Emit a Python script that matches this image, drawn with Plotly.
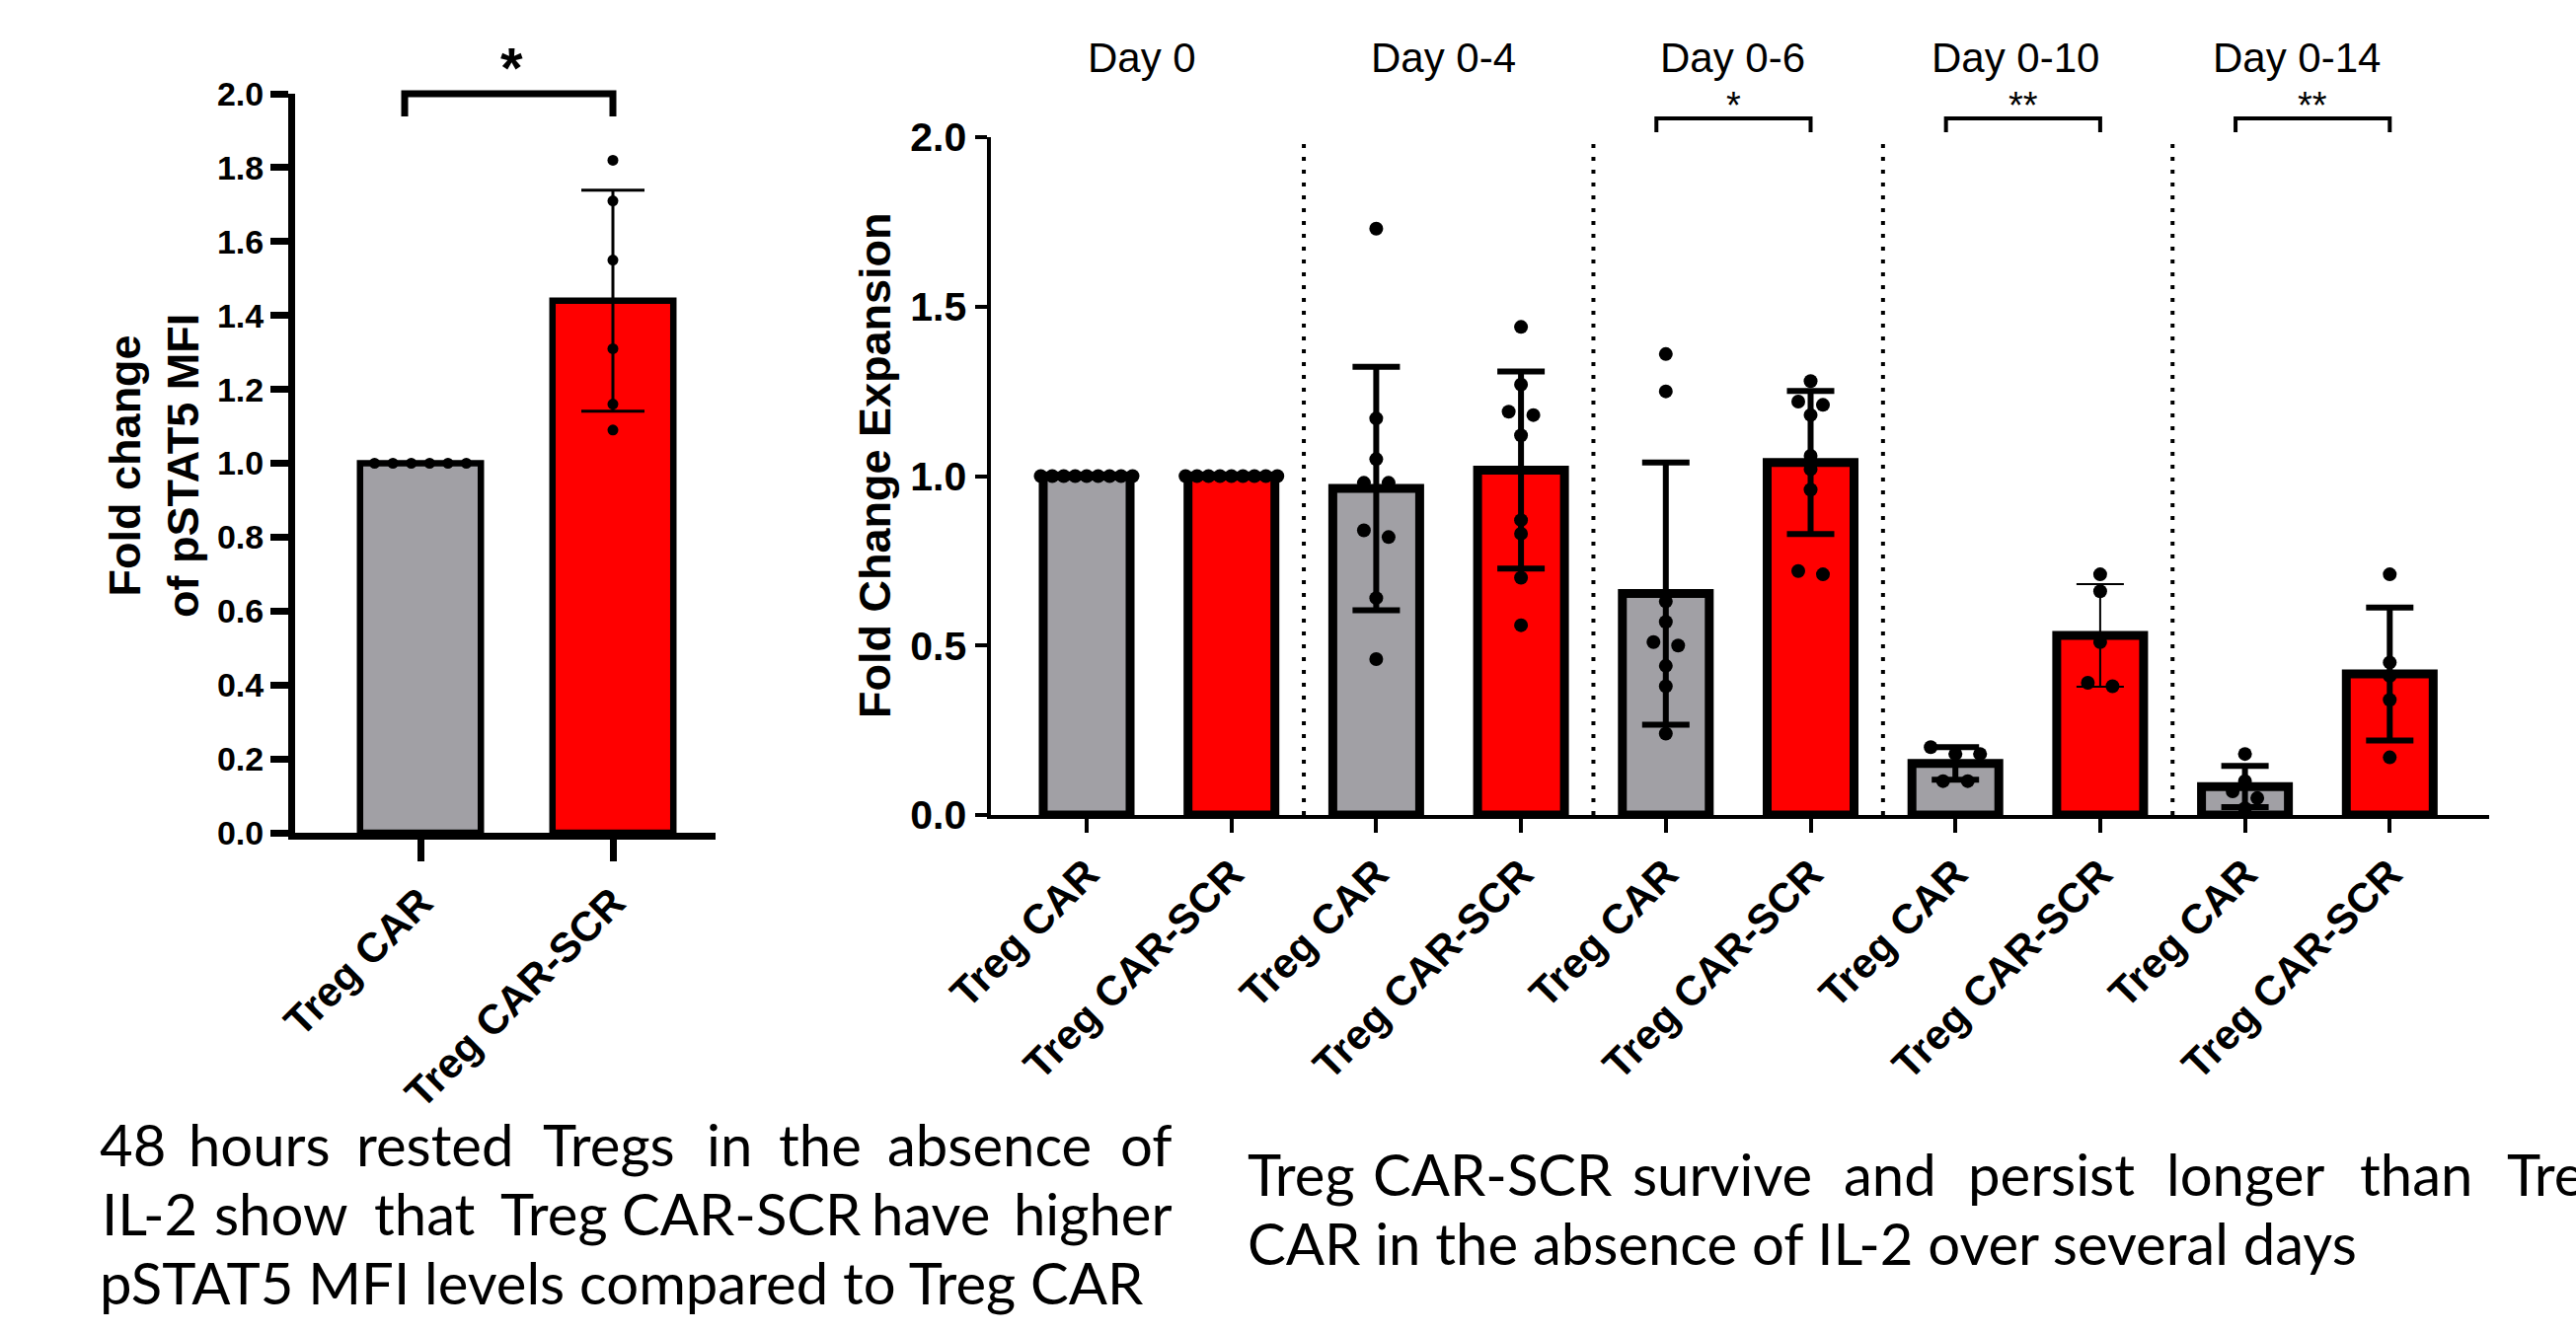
import statistics
import plotly.graph_objects as go

W, H = 2610, 1351

# ---------------- data ----------------
pstat5_groups = ["Treg CAR", "Treg CAR-SCR"]
pstat5_treg_car = [1.00, 1.00, 1.00, 1.00, 1.00, 1.00]
pstat5_treg_car_scr = [1.82, 1.71, 1.55, 1.31, 1.16, 1.09]
pstat5_yticks = [0.0, 0.2, 0.4, 0.6, 0.8, 1.0, 1.2, 1.4, 1.6, 1.8, 2.0]
pstat5_significance = "*"
pstat5_ytitle = "Fold change<br>of pSTAT5 MFI"

expansion_days = ["Day 0", "Day 0-4", "Day 0-6", "Day 0-10", "Day 0-14"]
expansion_groups = ["Treg CAR", "Treg CAR-SCR"]
car_day0 = [1.00, 1.00, 1.00, 1.00, 1.00, 1.00, 1.00, 1.00, 1.00]
scr_day0 = [1.00, 1.00, 1.00, 1.00, 1.00, 1.00, 1.00, 1.00, 1.00]
car_day0_4 = [1.73, 1.17, 1.05, 0.98, 0.98, 0.82, 0.84, 0.64, 0.46]
scr_day0_4 = [1.44, 1.27, 1.19, 1.18, 1.12, 0.87, 0.83, 0.70, 0.56]
car_day0_6 = [1.36, 1.25, 0.63, 0.57, 0.51, 0.50, 0.44, 0.38, 0.24]
scr_day0_6 = [1.28, 1.22, 1.21, 1.18, 1.06, 1.02, 0.96, 0.72, 0.71]
car_day0_10 = [0.20, 0.18, 0.18, 0.10, 0.10]
scr_day0_10 = [0.71, 0.66, 0.51, 0.39, 0.38]
car_day0_14 = [0.18, 0.10, 0.07, 0.05, 0.02]
scr_day0_14 = [0.71, 0.45, 0.41, 0.34, 0.17]
expansion_values = [
    (car_day0, scr_day0),
    (car_day0_4, scr_day0_4),
    (car_day0_6, scr_day0_6),
    (car_day0_10, scr_day0_10),
    (car_day0_14, scr_day0_14),
]
expansion_significance = ["", "", "*", "**", "**"]
expansion_yticks = [0.0, 0.5, 1.0, 1.5, 2.0]
expansion_ytitle = "Fold Change Expansion"

caption_left = [
    "48 hours rested Tregs in the absence of",
    "IL-2 show that Treg CAR-SCR have higher",
    "pSTAT5 MFI levels compared to Treg CAR",
]
caption_right = [
    "Treg CAR-SCR survive and persist longer than Treg",
    "CAR in the absence of IL-2 over several days",
]

# ---------------- styling / layout constants ----------------
GRAY = "#A1A0A5"
RED = "#FF0000"
AX_FONT = "Liberation Sans, Arial, sans-serif"
CAP_FONT = "Lato, Noto Sans, sans-serif"

# left panel geometry (pixels)
L = dict(cat0=426.0, step=195.0, x0=299.0, x1=725.0, y0=844.0, y1=95.0,
         lw=7, barw=0.628, outline=6.5, msize=11)
# right panel geometry (pixels)
R = dict(cat0=1101.0, step=146.7, x0=1003.5, x1=2522.0, y0=826.0, y1=139.0,
         lw=4, barw=0.60, outline=9, msize=14)


def xrange_of(g):
    return [(g["x0"] - g["cat0"]) / g["step"], (g["x1"] - g["cat0"]) / g["step"]]


def ppu_y(g):
    return (g["y0"] - g["y1"]) / 2.0


def px_from_x(g, xv):
    return g["cat0"] + xv * g["step"]


def fx(p):
    return p / W


def fy(p):
    return 1 - p / H


def swarm_offsets(values, g, tol_px=9.0, max_step_px=25.0, span_px=93.0):
    order = sorted(range(len(values)), key=lambda i: -values[i])
    rows = []
    for i in order:
        if rows and abs(values[rows[-1][-1]] - values[i]) * ppu_y(g) <= tol_px:
            rows[-1].append(i)
        else:
            rows.append([i])
    offs = [0.0] * len(values)
    for row in rows:
        k = len(row)
        if k == 1:
            continue
        step = min(max_step_px, span_px / (k - 1))
        for j, i in enumerate(row):
            offs[i] = (j - (k - 1) / 2.0) * step / g["step"]
    return offs


fig = go.Figure()


def add_group(pos, values, color, g, xa, ya, err_thick, err_half):
    mean = statistics.mean(values)
    sd = statistics.stdev(values) if len(values) > 1 else 0.0
    fig.add_trace(go.Bar(
        x=[pos], y=[mean], width=g["barw"], xaxis=xa, yaxis=ya,
        marker=dict(color=color, line=dict(color="black", width=g["outline"])),
        error_y=dict(type="data", array=[sd], visible=sd > 0, color="black",
                     thickness=err_thick, width=err_half),
        showlegend=False, hoverinfo="skip",
    ))
    offs = swarm_offsets(values, g)
    fig.add_trace(go.Scatter(
        x=[pos + o for o in offs], y=values, mode="markers", xaxis=xa, yaxis=ya,
        marker=dict(color="black", size=g["msize"], line=dict(width=0)),
        cliponaxis=False, showlegend=False, hoverinfo="skip",
    ))


# left panel
add_group(0, pstat5_treg_car, GRAY, L, "x", "y", 3, 32)
add_group(1, pstat5_treg_car_scr, RED, L, "x", "y", 3, 32)

# right panel
thin_error = {(3, 1)}
right_ticktext = []
for d, (car_vals, scr_vals) in enumerate(expansion_values):
    for gi, (vals, col) in enumerate(((car_vals, GRAY), (scr_vals, RED))):
        thick = 2 if (d, gi) in thin_error else 6
        add_group(2 * d + gi, vals, col, R, "x2", "y2", thick, 24)
        right_ticktext.append(expansion_groups[gi])

shapes = []
annotations = []

# dotted separators
for d in range(len(expansion_days) - 1):
    xv = 2 * d + 1.5
    shapes.append(dict(type="line", xref="x2", yref="y2", x0=xv, x1=xv, y0=0, y1=2,
                       line=dict(color="black", width=4, dash="4px,9px")))

# significance brackets (right)
for d, sig in enumerate(expansion_significance):
    if not sig:
        continue
    xl = fx(px_from_x(R, 2 * d - 0.065))
    xr = fx(px_from_x(R, 2 * d + 1))
    shapes.append(dict(type="path", xref="paper", yref="paper",
                       path=f"M {xl},{fy(134)} L {xl},{fy(120)} L {xr},{fy(120)} L {xr},{fy(134)}",
                       line=dict(color="black", width=4)))
    annotations.append(dict(xref="paper", yref="paper", x=(xl + xr) / 2, y=fy(107),
                            text=sig, showarrow=False, xanchor="center", yanchor="middle",
                            font=dict(family=AX_FONT, size=38, color="black")))

# day labels (centres, in pixels)
day_label_px = [1157, 1462, 1755, 2042, 2327]
for day, xpx in zip(expansion_days, day_label_px):
    annotations.append(dict(xref="paper", yref="paper", x=fx(xpx),
                            y=fy(59), text=day, showarrow=False, xanchor="center",
                            yanchor="middle", font=dict(family=AX_FONT, size=42, color="black")))

# left bracket
xl = fx(px_from_x(L, -0.082))
xr = fx(px_from_x(L, 1.0))
shapes.append(dict(type="path", xref="paper", yref="paper",
                   path=f"M {xl},{fy(118)} L {xl},{fy(95)} L {xr},{fy(95)} L {xr},{fy(118)}",
                   line=dict(color="black", width=7)))
annotations.append(dict(xref="paper", yref="paper", x=fx(518), y=fy(69), text=pstat5_significance,
                        showarrow=False, xanchor="center", yanchor="middle",
                        font=dict(family=AX_FONT, size=58, color="black", weight="bold")))

# y titles
annotations.append(dict(xref="paper", yref="paper", x=fx(156), y=fy(472), text=pstat5_ytitle,
                        textangle=-90, showarrow=False, xanchor="center", yanchor="middle",
                        font=dict(family=AX_FONT, size=45, color="black", weight="bold")))
annotations.append(dict(xref="paper", yref="paper", x=fx(886), y=fy(472), text=expansion_ytitle,
                        textangle=-90, showarrow=False, xanchor="center", yanchor="middle",
                        font=dict(family=AX_FONT, size=45, color="black", weight="bold")))

# captions (justified lines are set word by word)
CAP_SIZE = 58
cap_font = dict(family=CAP_FONT, size=CAP_SIZE, color="black")


def justified_line(text, ymid, left, right, centers, last_left=None):
    words = text.split(" ")
    for i, w in enumerate(words):
        if i == 0:
            x, xa = left, "left"
        elif i == len(words) - 1:
            if last_left is not None:
                x, xa = last_left, "left"
            else:
                x, xa = right, "right"
        else:
            x, xa = centers[i - 1], "center"
        annotations.append(dict(xref="paper", yref="paper", x=fx(x), y=fy(ymid),
                                text=w, showarrow=False, xanchor=xa, yanchor="middle",
                                font=cap_font))


def plain_line(text, ymid, left):
    annotations.append(dict(xref="paper", yref="paper", x=fx(left), y=fy(ymid),
                            text=text, showarrow=False, xanchor="left", yanchor="middle",
                            font=cap_font))


justified_line(caption_left[0], 1159, 99, 1190, [263, 440, 617, 739, 831, 1002])
justified_line(caption_left[1], 1229, 101, 1190, [285, 430, 561, 751, 943])
plain_line(caption_left[2], 1299, 99)
justified_line(caption_right[0], 1189, 1262, None, [1512, 1745, 1915, 2078, 2275, 2448], last_left=2538)
plain_line(caption_right[1], 1259, 1262)

axis_common = dict(showgrid=False, zeroline=False, showline=True, linecolor="black",
                   ticks="outside", tickcolor="black", automargin=False)

fig.update_layout(
    template="none",
    width=W, height=H, autosize=False,
    margin=dict(l=0, r=0, t=0, b=0, pad=0, autoexpand=False),
    paper_bgcolor="white", plot_bgcolor="white",
    barmode="overlay", showlegend=False,
    shapes=shapes, annotations=annotations,
    xaxis=dict(domain=[fx(L["x0"]), fx(L["x1"])], range=xrange_of(L), anchor="y",
               tickmode="array", tickvals=list(range(len(pstat5_groups))), ticktext=pstat5_groups,
               tickangle=-45, linewidth=L["lw"], tickwidth=7, ticklen=22,
               tickfont=dict(family=AX_FONT, size=42, color="black", weight="bold"), **axis_common),
    yaxis=dict(domain=[fy(L["y0"]), fy(L["y1"])], range=[0, 2], anchor="x",
               tickmode="array", tickvals=pstat5_yticks,
               ticktext=[f"{v:.1f}" for v in pstat5_yticks],
               linewidth=L["lw"], tickwidth=7, ticklen=18,
               tickfont=dict(family=AX_FONT, size=34, color="black", weight="bold"), **axis_common),
    xaxis2=dict(domain=[fx(R["x0"]), fx(R["x1"])], range=xrange_of(R), anchor="y2",
                tickmode="array", tickvals=list(range(len(right_ticktext))), ticktext=right_ticktext,
                tickangle=-45, linewidth=R["lw"], tickwidth=4, ticklen=14,
                tickfont=dict(family=AX_FONT, size=42, color="black", weight="bold"), **axis_common),
    yaxis2=dict(domain=[fy(R["y0"]), fy(R["y1"])], range=[0, 2], anchor="x2",
                tickmode="array", tickvals=expansion_yticks,
                ticktext=[f"{v:.1f}" for v in expansion_yticks],
                linewidth=R["lw"], tickwidth=4, ticklen=12,
                tickfont=dict(family=AX_FONT, size=41, color="black", weight="bold"), **axis_common),
)

fig.write_html("out.html", config={"displayModeBar": False},
               post_script="document.body.style.margin='0';document.body.style.overflow='hidden';")
